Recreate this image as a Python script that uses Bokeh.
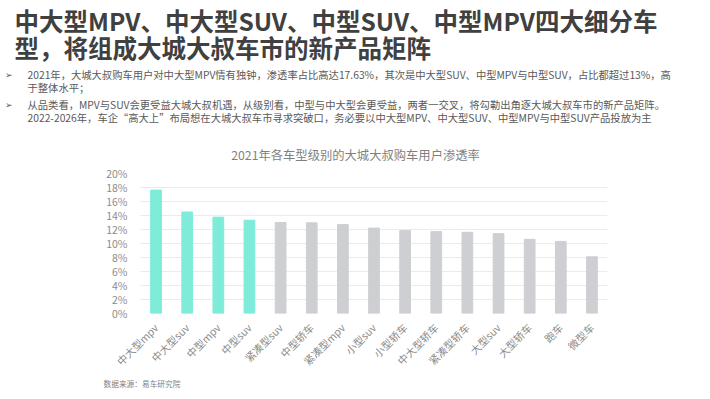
from bokeh.plotting import figure
from bokeh.layouts import column
from bokeh.models import Label, FactorRange, ColumnDataSource, FixedTicker, Range1d
from bokeh.embed import file_html
from bokeh.resources import INLINE
import math

categories = ["中大型mpv", "中大型suv", "中型mpv", "中型suv", "紧凑型suv", "中型轿车", "紧凑型mpv",
              "小型suv", "小型轿车", "中大型轿车", "紧凑型轿车", "大型suv", "大型轿车", "跑车", "微型车"]
rates = [17.63, 14.5, 13.76, 13.33, 13.0, 12.95, 12.7, 12.2, 11.85, 11.7, 11.6, 11.4, 10.6, 10.3, 8.1]
highlight = [True, True, True, True] + [False] * 11
y_ticks = [0, 2, 4, 6, 8, 10, 12, 14, 16, 18, 20]

TEAL = "#7FEBD9"
GRAY = "#CDCFD2"
FONT = "Noto Sans CJK SC"
W = 694
TOP_H, CHART_H, FOOT_H = 165, 212, 14


def text_panel(h):
    f = figure(width=W, height=h, x_range=Range1d(0, W), y_range=Range1d(h, 0),
               output_backend="svg", toolbar_location=None, x_axis_type=None, y_axis_type=None,
               min_border=0, min_border_left=0, min_border_right=0, min_border_top=0, min_border_bottom=0,
               frame_align=False)
    f.outline_line_color = None
    f.xgrid.visible = False
    f.ygrid.visible = False
    return f


def add_label(f, x, y, text, size, color, bold=False, align="left"):
    f.add_layout(Label(x=x, y=y, text=text, text_font=FONT, text_font_size=size, text_color=color,
                       text_font_style="bold" if bold else "normal",
                       text_align=align, text_baseline="middle"))


# ---- header ----
top = text_panel(TOP_H)
TITLE_C = "#404040"
add_label(top, 14, 20, "中大型MPV、中大型SUV、中型SUV、中型MPV四大细分车", "24.5px", TITLE_C, bold=True)
add_label(top, 14, 47, "型，将组成大城大叔车市的新产品矩阵", "24.5px", TITLE_C, bold=True)
bullet_color = "#595959"
BS = "10.3px"
add_label(top, 4, 74, "➢", "9px", bullet_color)
add_label(top, 27, 74, "2021年，大城大叔购车用户对中大型MPV情有独钟，渗透率占比高达17.63%，其次是中大型SUV、中型MPV与中型SUV，占比都超过13%，高",
          BS, bullet_color)
add_label(top, 27, 87, "于整体水平；", BS, bullet_color)
add_label(top, 4, 104, "➢", "9px", bullet_color)
add_label(top, 27, 104, "从品类看，MPV与SUV会更受益大城大叔机遇，从级别看，中型与中大型会更受益，两者一交叉，将勾勒出角逐大城大叔车市的新产品矩阵。",
          BS, bullet_color)
add_label(top, 27, 117, "2022-2026年，车企“高大上”布局想在大城大叔车市寻求突破口，务必要以中大型MPV、中大型SUV、中型MPV与中型SUV产品投放为主",
          BS, bullet_color)
add_label(top, 355, 154, "2021年各车型级别的大城大叔购车用户渗透率", "12.3px", "#7F7F7F", align="center")

# ---- chart ----
p = figure(width=W, height=CHART_H, x_range=FactorRange(factors=categories, range_padding=0),
           y_range=(0, 20), output_backend="svg", toolbar_location=None, frame_align=False,
           min_border_left=140, min_border_right=87, min_border_top=8, min_border_bottom=CHART_H - 8 - 140)
p.outline_line_color = None

src = ColumnDataSource(dict(cat=categories, val=rates,
                            color=[TEAL if h else GRAY for h in highlight]))
p.vbar(x="cat", top="val", width=0.345, color="color", source=src)

p.yaxis.ticker = FixedTicker(ticks=y_ticks)
p.yaxis.major_label_overrides = {t: f"{t}%" for t in y_ticks}
p.yaxis.axis_line_color = None
p.yaxis.major_tick_line_color = None
p.yaxis.minor_tick_line_color = None
p.yaxis.major_label_text_color = "#8C8C8C"
p.yaxis.major_label_text_font = FONT
p.yaxis.major_label_text_font_size = "10.5px"
p.yaxis.major_label_standoff = 7

p.xaxis.axis_line_color = None
p.xaxis.major_tick_line_color = None
p.xaxis.major_label_orientation = math.pi / 4
p.xaxis.major_label_text_color = "#8C8C8C"
p.xaxis.major_label_text_font = FONT
p.xaxis.major_label_text_font_size = "10.5px"
p.xaxis.major_label_standoff = 6

p.xgrid.grid_line_color = None
p.ygrid.grid_line_color = "#EBEBEB"
p.ygrid.grid_line_width = 1

# ---- footnote ----
foot = text_panel(FOOT_H)
add_label(foot, 103, 6, "数据来源：易车研究院", "7.7px", "#7F7F7F")

layout = column(top, p, foot, spacing=0)
open("out.html", "w").write(file_html(layout, INLINE))
